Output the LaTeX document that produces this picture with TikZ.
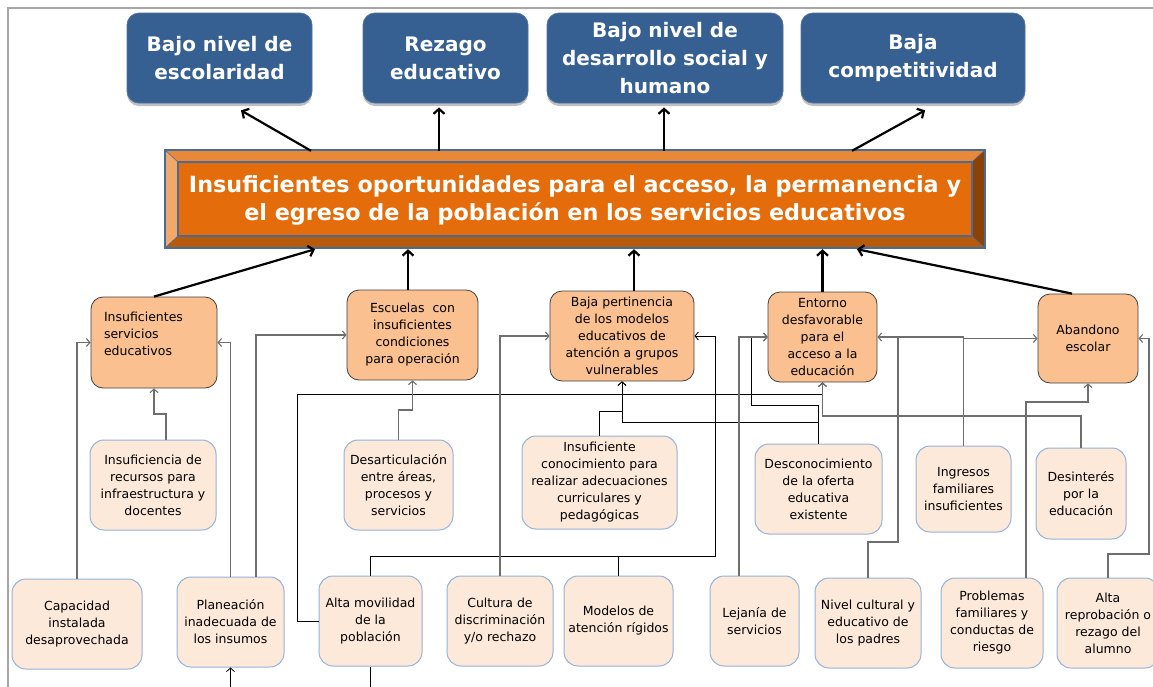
\documentclass[tikz,border=0pt]{standalone}
\usepackage{fontspec}
\newfontfamily\dv{DejaVu Sans}
\usetikzlibrary{arrows.meta,calc,shadows}
\definecolor{hdrblue}{RGB}{55,96,146}
\definecolor{hdrbd}{RGB}{80,115,160}
\definecolor{faceor}{RGB}{228,108,10}
\definecolor{topbev}{RGB}{232,137,58}
\definecolor{leftbev}{RGB}{240,169,106}
\definecolor{botbev}{RGB}{182,90,12}
\definecolor{rightbev}{RGB}{138,66,8}
\definecolor{bevline}{RGB}{74,107,150}
\definecolor{midor}{RGB}{250,192,144}
\definecolor{midbd}{RGB}{64,64,64}
\definecolor{lowor}{RGB}{253,233,217}
\definecolor{lowbd}{RGB}{149,179,215}
\definecolor{framegray}{RGB}{166,166,166}
\definecolor{conngray}{RGB}{110,110,110}
\newcommand\myBody{\dv\fontsize{12.5}{17}\selectfont}
\newcommand\myHdr{\dv\bfseries\fontsize{20}{28}\selectfont}
\newcommand\myTitle{\dv\bfseries\fontsize{22.3}{28}\selectfont}
\begin{document}
\begin{tikzpicture}[x=1pt,y=-1pt,
  hdrbox/.style={rounded corners=12pt, fill=hdrblue, draw=hdrbd, line width=0.8pt, text=white, font=\myHdr, align=center, inner sep=2pt,
    drop shadow={shadow xshift=0pt,shadow yshift=-3pt,opacity=0.25,fill=black}},
  midbox/.style={rounded corners=12pt, fill=midor, draw=midbd, line width=0.8pt, font=\myBody, align=center, inner sep=2pt},
  lowbox/.style={rounded corners=14pt, fill=lowor, draw=lowbd, line width=1pt, font=\myBody, align=center, inner sep=2pt},
  big/.style={line width=2.2pt, -{Straight Barb[length=5pt,width=11pt]}},
  cg/.style={draw=conngray, line width=1.1pt},
  ck/.style={draw=black, line width=0.8pt},
  ar/.style={-{Straight Barb[length=3.5pt,width=8pt]}}
]
\useasboundingbox (0,0) rectangle (1153,686);
\fill[white] (0,0) rectangle (1153,686);
% frame
\draw[framegray, line width=1.5pt] (8,690) -- (8,8) -- (1160,8);

% top boxes
\node[hdrbox, minimum width=185, minimum height=90] (b1) at (219.5,58) {Bajo nivel de\\escolaridad};
\node[hdrbox, minimum width=165, minimum height=90] (b2) at (445.5,58) {Rezago\\educativo};
\node[hdrbox, minimum width=236, minimum height=90] (b3) at (665,58) {Bajo nivel de\\desarrollo social y\\humano};
\node[hdrbox, minimum width=224, minimum height=90] (b4) at (913,58) {Baja\\competitividad};

% main bevel box
\fill[faceor] (178,162) rectangle (972,236);
\fill[topbev] (165,150) -- (985,150) -- (972,162) -- (178,162) -- cycle;
\fill[leftbev] (165,150) -- (178,162) -- (178,236) -- (165,248) -- cycle;
\fill[botbev] (165,248) -- (178,236) -- (972,236) -- (985,248) -- cycle;
\fill[rightbev] (985,150) -- (985,248) -- (972,236) -- (972,162) -- cycle;
\draw[bevline, line width=1.2pt] (165,150) rectangle (985,248);
\draw[bevline, line width=1.2pt] (178,162) rectangle (972,236);
\draw[bevline, line width=0.6pt] (165,150) -- (178,162) (985,150) -- (972,162) (165,248) -- (178,236) (985,248) -- (972,236);
\node[minimum width=820, minimum height=98, inner sep=0pt, text=white, font=\myTitle, align=center] (main) at (575,200)
  {Insuficientes oportunidades para el acceso, la permanencia y\\el egreso de la población en los servicios educativos};

% middle row
\node[midbox, minimum width=126, minimum height=91, align=left, text width=100, inner xsep=13pt] (A) at (154,342.5)
  {Insuficientes\\servicios\\educativos\\\mbox{}};
\node[midbox, minimum width=131, minimum height=90] (B) at (412.5,335) {Escuelas\ \ con\\insuficientes\\condiciones\\para operación};
\node[midbox, minimum width=144, minimum height=90] (C) at (622,336) {Baja pertinencia\\de los modelos\\educativos de\\atención a grupos\\vulnerables};
\node[midbox, minimum width=109, minimum height=90] (D) at (822.5,337) {Entorno\\desfavorable\\para el\\acceso a la\\educación};
\node[midbox, minimum width=100, minimum height=89] (E) at (1088,338.5) {Abandono\\escolar};

% second row
\node[lowbox, minimum width=126, minimum height=90] (F) at (153,485) {Insuficiencia de\\recursos para\\infraestructura y\\docentes};
\node[lowbox, minimum width=109, minimum height=90] (G) at (398.5,485) {Desarticulación\\entre áreas,\\procesos y\\servicios};
\node[lowbox, minimum width=155, minimum height=93] (H) at (599.5,482.5) {Insuficiente\\conocimiento para\\realizar adecuaciones\\curriculares y\\pedagógicas};
\node[lowbox, minimum width=127, minimum height=90] (I) at (818.5,489) {Desconocimiento\\de la oferta\\educativa\\existente};
\node[lowbox, minimum width=95, minimum height=86] (J) at (963.5,489) {Ingresos\\familiares\\insuficientes};
\node[lowbox, minimum width=90, minimum height=91] (K) at (1081,493.5) {Desinterés\\por la\\educación};

% bottom row
\node[lowbox, minimum width=130, minimum height=90] (L) at (77,624) {Capacidad\\instalada\\desaprovechada};
\node[lowbox, minimum width=107, minimum height=90] (M) at (230.5,622) {Planeación\\inadecuada de\\los insumos};
\node[lowbox, minimum width=103, minimum height=90] (N) at (370.5,621) {Alta movilidad\\de la\\población};
\node[lowbox, minimum width=106, minimum height=90] (O) at (500,621) {Cultura de\\discriminación\\y/o rechazo};
\node[lowbox, minimum width=109, minimum height=90] (P) at (618.5,621) {Modelos de\\atención rígidos};
\node[lowbox, minimum width=89, minimum height=90] (Q) at (754.5,621) {Lejanía de\\servicios};
\node[lowbox, minimum width=106, minimum height=90] (R) at (868,623) {Nivel cultural y\\educativo de\\los padres};
\node[lowbox, minimum width=102, minimum height=90] (S) at (992,623) {Problemas\\familiares y\\conductas de\\riesgo};
\node[lowbox, minimum width=102, minimum height=90] (T) at (1108,623) {Alta\\reprobación o\\rezago del\\alumno};

\coordinate (mbot) at (230.5,690);
\coordinate (nbot) at (370.5,690);

% thick arrows
\draw[big] (main.north -| 311,0) -- ($(b1.south)+(21.5,7)$);
\draw[big] (main.north -| 439,0) -- ($(b2.south -| 439,0)+(0,4)$);
\draw[big] (main.north -| 664,0) -- ($(b3.south -| 664,0)+(0,4)$);
\draw[big] (main.north -| 852,0) -- ($(b4.south)+(12,7)$);
\draw[big] (A.north) -- (main.south -| 315,0);
\draw[big] (B.north -| 408,0) -- (main.south -| 408,0);
\draw[big] (C.north -| 634,0) -- (main.south -| 634,0);
\draw[big] (D.north) -- (main.south -| 822.5,0);
\draw[big] ($(E.north)+(-16,0)$) -- (main.south -| 857,0);

% thin connectors
\draw[cg,ar] (F.north -| 166,0) |- (154,414) -- (A.south);
\draw[cg,ar] (L.north) |- (A.west);
\draw[cg,ar] (M.north) |- (A.east);
\draw[cg,ar] (M.north -| 256,0) |- (B.west);
\draw[ck,ar] (mbot) -- (M.south);
\draw[ck,ar] (N.west) -| (297,394) -| (D.south);
\draw[ck,ar] (N.north) |- (715,556) |- (C.east);
\draw[ck] (N.south) -- (nbot);
\draw[ck] (P.north) -- (P.north |- 0,556);
\draw[cg,ar] (O.north) |- (C.west);
\draw[cg,ar] (G.north) |- (412.5,410) -- (B.south);
\draw[ck,ar] (H.north) |- (622,411) -- (C.south);
\draw[ck,ar] (I.north) |- (622,422) -- (C.south);
\draw[ck,ar] (I.north) |- (751,405) |- (D.west);
\draw[cg,ar] (Q.north -| 739,0) |- (D.west);
\draw[cg,ar] (K.north) |- (822.5,416) -- (D.south);
\draw[cg,ar] (J.north) |- (D.east);
\draw[cg,ar] (J.north) |- (E.west);
\draw[cg] (R.north) |- (898,542) -- (D.east -| 898,0);
\draw[cg,ar] (T.north) |- (1149,554) |- (E.east);
\draw[cg,ar] (S.north -| 1026,0) |- (1088,402) -- (E.south);
\end{tikzpicture}
\end{document}
